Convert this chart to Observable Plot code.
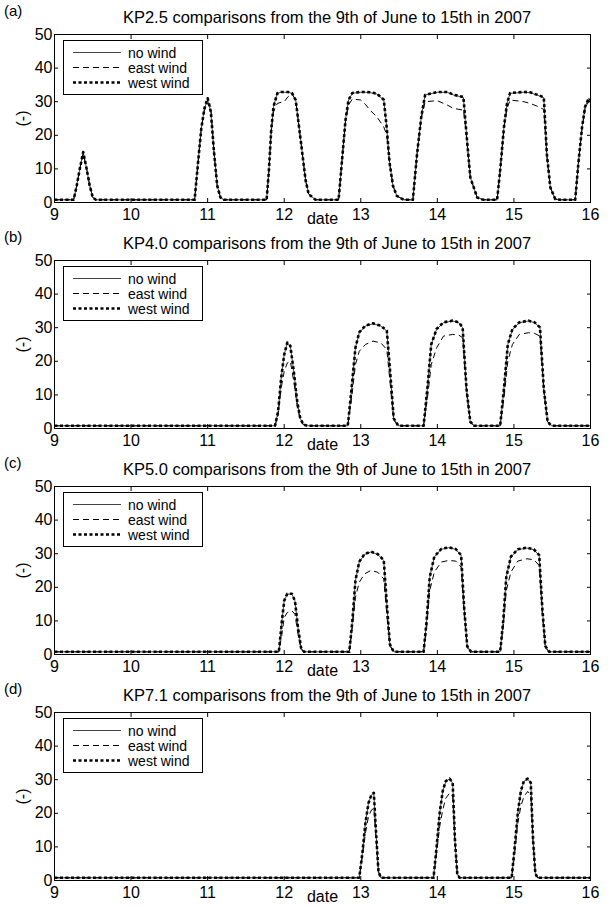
<!DOCTYPE html>
<html><head><meta charset="utf-8">
<script src="https://cdn.jsdelivr.net/npm/d3@7"></script>
<script src="https://cdn.jsdelivr.net/npm/@observablehq/plot@0.6"></script>
<style>
body{margin:0;background:#fff;font-family:"Liberation Sans",Arial,sans-serif;color:#000;}
#root{width:612px;}
.panel{position:relative;width:612px;}
.panel svg{display:block;}
.tag{position:absolute;left:4px;font-size:15px;line-height:15px;}
.title{position:absolute;left:54px;width:546px;text-align:center;font-size:16.5px;line-height:17px;white-space:nowrap;}
.legend{position:absolute;left:63px;border:1px solid #000;background:#fff;font-size:14px;width:140px;height:55px;box-sizing:border-box;padding-top:4px;}
.legend .row{display:flex;align-items:center;height:15px;}
.legend svg{flex:none;}
</style>
</head><body><div id="root"></div>
<script>
// ---- axis ticks ----
const dayTicks = [9, 10, 11, 12, 13, 14, 15, 16];
const valueTicks = [0, 10, 20, 30, 40, 50];
const seriesNames = ["no wind", "east wind", "west wind"];

// ---- panel (a) KP2.5 ----
const tA = [9.00, 9.25, 9.29, 9.33, 9.375, 9.42, 9.46, 9.50, 9.54,
  10.83, 10.875, 10.917, 10.958, 11.00, 11.042, 11.083, 11.125, 11.167, 11.21,
  11.77, 11.80, 11.83, 11.86, 11.91, 11.96, 12.00, 12.05, 12.10, 12.15, 12.21, 12.28, 12.32, 12.41,
  12.71, 12.755, 12.80, 12.84, 12.89, 13.00, 13.06, 13.12, 13.21, 13.30, 13.34, 13.375, 13.42, 13.47, 13.56,
  13.68, 13.735, 13.79, 13.84, 14.00, 14.13, 14.21, 14.34, 14.365, 14.43, 14.52, 14.60,
  14.78, 14.82, 14.87, 14.91, 14.95, 15.13, 15.21, 15.30, 15.39, 15.43, 15.475, 15.54, 15.61,
  15.80, 15.845, 15.89, 15.93, 15.975, 16.00];
const noWindA = [0.8, 0.8, 5, 10, 15, 10, 5, 1.5, 0.8,
  0.8, 12, 22, 28, 30.5, 27, 15, 5, 1.5, 0.8,
  0.8, 9.5, 21.5, 28.5, 32.5, 32.8, 32.8, 32.8, 32.5, 30.5, 19.5, 6.5, 2.5, 0.8,
  0.8, 12.5, 24.5, 30.5, 32.5, 32.8, 32.8, 32.7, 32.3, 30.5, 22, 12, 5, 2, 0.8,
  0.8, 14.5, 25.5, 32, 32.8, 32.8, 32, 31.3, 24.5, 7.5, 1.5, 0.8,
  0.8, 9.5, 22.5, 29.5, 32.5, 32.8, 32.7, 32, 31.2, 14.5, 4.5, 1, 0.8,
  0.8, 12.5, 22.5, 28.5, 31, 30.5];
const eastA = [0.8, 0.8, 5, 10, 14.5, 10, 5, 1.5, 0.8,
  0.8, 12, 22, 27.5, 29.5, 28.5, 15, 5, 1.5, 0.8,
  0.8, 9.5, 21, 27, 29.5, 29.8, 30, 31.5, 32.3, 30.5, 19.5, 6.5, 2.5, 0.8,
  0.8, 12.5, 24, 29, 30.8, 30.5, 29.2, 27.5, 25.5, 22.5, 20, 12, 5, 2, 0.8,
  0.8, 14.5, 25, 30, 30.3, 29, 28, 27.5, 23, 7.5, 1.5, 0.8,
  0.8, 9.5, 22, 28, 30.5, 30, 29.5, 28.7, 27.7, 13.5, 4.5, 1, 0.8,
  0.8, 12.5, 22, 28, 30, 30];
const westA = [0.8, 0.8, 5, 10, 15, 10, 5, 1.5, 0.8,
  0.8, 12, 22, 28, 31, 27, 15, 5, 1.5, 0.8,
  0.8, 9.5, 21.5, 28.5, 32.5, 32.9, 32.9, 32.9, 32.6, 30.5, 19.5, 6.5, 2.5, 0.8,
  0.8, 12.5, 24.5, 30.5, 32.6, 32.9, 32.9, 32.8, 32.4, 30.6, 22, 12, 5, 2, 0.8,
  0.8, 14.5, 25.5, 32, 32.9, 32.9, 32.1, 31.4, 24.5, 7.5, 1.5, 0.8,
  0.8, 9.5, 22.5, 29.5, 32.6, 32.9, 32.8, 32.1, 31.3, 14.5, 4.5, 1, 0.8,
  0.8, 12.5, 22.5, 28.5, 31, 30.5];

// ---- panel (b) KP4.0 ----
const tB = [9.00, 11.88, 11.92, 11.96, 12.00, 12.04, 12.08, 12.125, 12.17, 12.21, 12.25, 12.30,
  12.83, 12.88, 12.93, 12.98, 13.06, 13.16, 13.26, 13.34, 13.39, 13.43, 13.49,
  13.82, 13.87, 13.92, 13.99, 14.08, 14.20, 14.28, 14.33, 14.38, 14.43, 14.48,
  14.82, 14.87, 14.92, 14.98, 15.07, 15.19, 15.27, 15.34, 15.39, 15.44, 15.49, 16.00];
const noWindB = [0.8, 0.8, 5, 15, 22, 25.5, 24.5, 17, 8, 3, 1.2, 0.8,
  0.8, 12, 24, 28.5, 30.5, 31.2, 30.5, 29, 15, 3, 0.8,
  0.8, 12, 25, 29.5, 31.5, 32, 31.5, 30, 12, 2, 0.8,
  0.8, 12, 25, 29.5, 31.5, 32, 31.5, 30, 12, 2, 0.8, 0.8];
const eastB = [0.8, 0.8, 4, 12, 17, 19.5, 20, 14, 6.5, 2.5, 1.1, 0.8,
  0.8, 9, 19, 23, 25, 26, 25.5, 23.5, 12, 2.5, 0.8,
  0.8, 9, 19, 24, 27.5, 28, 27.8, 27, 11, 2, 0.8,
  0.8, 9, 20, 25, 28, 28.5, 28.3, 27.5, 11, 2, 0.8, 0.8];
const westB = [0.8, 0.8, 5, 15, 22, 25.6, 24.6, 17, 8, 3, 1.2, 0.8,
  0.8, 12, 24, 28.6, 30.6, 31.3, 30.6, 29.1, 15, 3, 0.8,
  0.8, 12, 25, 29.6, 31.6, 32.1, 31.6, 30.1, 12, 2, 0.8,
  0.8, 12, 25, 29.6, 31.6, 32.1, 31.6, 30.1, 12, 2, 0.8, 0.8];

// ---- panel (c) KP5.0 ----
const tC = [9.00, 11.93, 11.97, 12.00, 12.04, 12.10, 12.14, 12.18, 12.22, 12.26,
  12.85, 12.89, 12.93, 12.98, 13.05, 13.13, 13.22, 13.30, 13.34, 13.38, 13.43,
  13.82, 13.86, 13.90, 13.96, 14.05, 14.15, 14.24, 14.31, 14.35, 14.39, 14.44,
  14.82, 14.86, 14.90, 14.96, 15.05, 15.17, 15.26, 15.33, 15.37, 15.41, 15.46, 16.00];
const noWindC = [0.8, 0.8, 10, 16, 18, 18, 16, 8, 2, 0.8,
  0.8, 10, 22, 27.5, 29.8, 30.5, 29.8, 28, 15, 3, 0.8,
  0.8, 10, 23, 29, 31.3, 31.8, 31.3, 29.5, 14, 2.5, 0.8,
  0.8, 10, 23, 29, 31.2, 31.7, 31.2, 29.5, 14, 2.5, 0.8, 0.8];
const eastC = [0.8, 0.8, 6, 11, 12.5, 13, 12, 6, 1.5, 0.8,
  0.8, 8, 17, 21.5, 24, 25, 24.5, 22.5, 12, 2.5, 0.8,
  0.8, 8, 19, 24.5, 27.5, 28, 27.8, 26, 12, 2, 0.8,
  0.8, 8, 19, 24.5, 27.8, 28.5, 28.2, 26.5, 12, 2, 0.8, 0.8];
const westC = [0.8, 0.8, 10, 16, 18.1, 18.1, 16, 8, 2, 0.8,
  0.8, 10, 22, 27.6, 29.9, 30.6, 29.9, 28.1, 15, 3, 0.8,
  0.8, 10, 23, 29.1, 31.4, 31.9, 31.4, 29.6, 14, 2.5, 0.8,
  0.8, 10, 23, 29.1, 31.3, 31.8, 31.3, 29.6, 14, 2.5, 0.8, 0.8];

// ---- panel (d) KP7.1 ----
const tD = [9.00, 12.98, 13.02, 13.06, 13.10, 13.14, 13.17, 13.20, 13.23, 13.26,
  13.95, 13.99, 14.03, 14.07, 14.11, 14.16, 14.20, 14.23, 14.26, 14.29,
  14.97, 15.01, 15.05, 15.09, 15.13, 15.18, 15.22, 15.25, 15.28, 15.31, 16.00];
const noWindD = [0.8, 0.8, 8, 17, 23, 25.5, 26, 14, 3, 0.8,
  0.8, 10, 20, 26.5, 29.5, 30.2, 29, 12, 2, 0.8,
  0.8, 10, 20, 26.5, 29.5, 30.2, 29, 12, 2, 0.8, 0.8];
const eastD = [0.8, 0.8, 7, 14, 19, 21, 21.5, 12, 2.5, 0.8,
  0.8, 8, 16, 21, 24.5, 26, 25, 11, 2, 0.8,
  0.8, 8, 17, 22, 25, 26.5, 25, 11, 2, 0.8, 0.8];
const westD = [0.8, 0.8, 8, 17, 23, 25.6, 26.1, 14, 3, 0.8,
  0.8, 10, 20, 26.6, 29.6, 30.3, 29.1, 12, 2, 0.8,
  0.8, 10, 20, 26.6, 29.6, 30.3, 29.1, 12, 2, 0.8, 0.8];

const panels = [
  {tag: "(a)", title: "KP2.5 comparisons from the 9th of June to 15th in 2007", t: tA, s: [noWindA, eastA, westA]},
  {tag: "(b)", title: "KP4.0 comparisons from the 9th of June to 15th in 2007", t: tB, s: [noWindB, eastB, westB]},
  {tag: "(c)", title: "KP5.0 comparisons from the 9th of June to 15th in 2007", t: tC, s: [noWindC, eastC, westC]},
  {tag: "(d)", title: "KP7.1 comparisons from the 9th of June to 15th in 2007", t: tD, s: [noWindD, eastD, westD]}
];
const panelHeights = [226, 226, 226, 228];

const styles = [
  {stroke: "#444", strokeWidth: 1, strokeLinecap: "butt"},
  {stroke: "#000", strokeWidth: 1, strokeDasharray: "6,4", strokeLinecap: "butt"},
  {stroke: "#000", strokeWidth: 2.6, strokeDasharray: "3,2.5", strokeLinecap: "butt"}
];

const FONT = '"Liberation Sans", Arial, sans-serif';
const root = document.getElementById("root");

panels.forEach((p, i) => {
  const H = panelHeights[i];
  const MT = 34, plotH = 168;
  const rows = [];
  p.s.forEach((vals, k) => vals.forEach((v, j) => rows.push({series: seriesNames[k], date: p.t[j], value: v})));

  const chart = Plot.plot({
    width: 612, height: H,
    marginLeft: 54, marginRight: 22, marginTop: MT, marginBottom: H - MT - plotH,
    style: {fontFamily: FONT, fontSize: "16px", color: "#000", background: "transparent", overflow: "visible"},
    x: {domain: [9, 16]},
    y: {domain: [0, 50]},
    marks: [
      ...seriesNames.map((name, k) => Plot.line(rows.filter(d => d.series === name), {x: "date", y: "value", ...styles[k]})),
      Plot.frame({stroke: "#000", strokeWidth: 1}),
      Plot.axisX({anchor: "bottom", ticks: dayTicks, tickSize: -4, tickPadding: 10, tickFormat: d => String(d),
        label: "date", labelAnchor: "center", labelArrow: "none", labelOffset: 21}),
      Plot.axisX({anchor: "top", ticks: dayTicks, tickSize: -4, tickFormat: () => "", label: null}),
      Plot.axisY({anchor: "left", ticks: valueTicks, tickSize: -4, tickPadding: 6, tickFormat: d => String(d),
        label: "(-)", labelAnchor: "center", labelArrow: "none", labelOffset: 38}),
      Plot.axisY({anchor: "right", ticks: valueTicks, tickSize: -4, tickFormat: () => "", label: null})
    ]
  });

  const wrap = document.createElement("div");
  wrap.className = "panel";
  wrap.style.height = H + "px";
  wrap.appendChild(chart);

  const tag = document.createElement("div");
  tag.className = "tag"; tag.textContent = p.tag; tag.style.top = "3px";
  wrap.appendChild(tag);

  const title = document.createElement("div");
  title.className = "title"; title.textContent = p.title; title.style.top = "9px";
  wrap.appendChild(title);

  const lg = document.createElement("div");
  lg.className = "legend"; lg.style.top = (MT + 6) + "px";
  seriesNames.forEach((name, k) => {
    const row = document.createElement("div");
    row.className = "row";
    const ns = "http://www.w3.org/2000/svg";
    const svg = document.createElementNS(ns, "svg");
    svg.setAttribute("width", 64); svg.setAttribute("height", 15);
    const ln = document.createElementNS(ns, "line");
    ln.setAttribute("x1", 9); ln.setAttribute("x2", 57);
    ln.setAttribute("y1", 7.5); ln.setAttribute("y2", 7.5);
    ln.setAttribute("stroke", styles[k].stroke);
    ln.setAttribute("stroke-width", styles[k].strokeWidth);
    if (styles[k].strokeDasharray) ln.setAttribute("stroke-dasharray", styles[k].strokeDasharray);
    svg.appendChild(ln);
    const sp = document.createElement("span");
    sp.textContent = name;
    row.appendChild(svg); row.appendChild(sp);
    lg.appendChild(row);
  });
  wrap.appendChild(lg);

  root.appendChild(wrap);
});
</script>
</body></html>
